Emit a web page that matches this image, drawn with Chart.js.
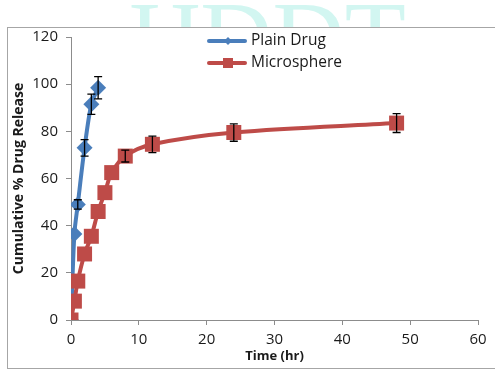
<!DOCTYPE html>
<html>
<head>
<meta charset="utf-8">
<script src="https://cdn.jsdelivr.net/npm/chart.js@4.4.1/dist/chart.umd.min.js"></script>
<style>
html,body{margin:0;padding:0;background:#fff;}
#wrap{position:relative;width:495px;height:372px;overflow:hidden;}
canvas{position:absolute;left:0;top:0;}
</style>
</head>
<body>
<div id="wrap"><canvas id="c" width="495" height="372"></canvas></div>
<script>
// ---- data ----
const plainTime    = [0, 0.5, 1, 2, 3, 4];
const plainRelease = [0, 36.5, 49, 73, 91.5, 98.5];
const plainError   = [0, 0, 2, 3.5, 4.3, 4.7];

const microTime    = [0, 0.5, 1, 2, 3, 4, 5, 6, 8, 12, 24, 48];
const microRelease = [0, 8, 16.5, 28, 35.5, 46, 54, 62.5, 69.5, 74.5, 79.5, 83.5];
const microError   = [0, 0, 0, 0, 0, 0, 0, 0, 2.5, 3.5, 3.7, 4];

const seriesNames = ['Plain Drug', 'Microsphere'];
const xTicks = [0, 10, 20, 30, 40, 50, 60];
const yTicks = [0, 20, 40, 60, 80, 100, 120];

const BLUE = '#4a7ebb';
const RED = '#be4b48';
const FONT = "'Open Sans', sans-serif";

function pts(xs, ys){ return xs.map((x,i)=>({x:x, y:ys[i]})); }

const errors = [plainError, microError];

const bgPlugin = {
  id:'bg',
  beforeDraw(chart){
    const ctx = chart.ctx;
    ctx.save();
    ctx.fillStyle = '#fff';
    ctx.fillRect(0,0,chart.width,chart.height);
    ctx.beginPath(); ctx.rect(0,0,chart.width,27); ctx.clip();
    ctx.font = "100px 'Liberation Serif', serif";
    ctx.fillStyle = '#d2f6f1';
    ctx.textBaseline = 'alphabetic';
    ctx.fillText('IJDDT', 128, 70);
    ctx.restore();
    ctx.save();
    ctx.strokeStyle = '#a6a6a6';
    ctx.lineWidth = 1;
    ctx.strokeRect(7.5, 27.5, 520, 341);
    ctx.restore();
  }
};

const errPlugin = {
  id:'err',
  afterDatasetsDraw(chart){
    const ctx = chart.ctx, xs = chart.scales.x, ys = chart.scales.y;
    ctx.save();
    ctx.strokeStyle = '#000';
    ctx.lineWidth = 1.3;
    chart.data.datasets.forEach((ds, di)=>{
      ds.data.forEach((p, i)=>{
        const e = errors[di][i];
        if (!e) return;
        const px = xs.getPixelForValue(p.x);
        const top = ys.getPixelForValue(p.y + e);
        const bot = ys.getPixelForValue(p.y - e);
        ctx.beginPath();
        ctx.moveTo(px, top); ctx.lineTo(px, bot);
        ctx.moveTo(px-4, top); ctx.lineTo(px+4, top);
        ctx.moveTo(px-4, bot); ctx.lineTo(px+4, bot);
        ctx.stroke();
      });
    });
    ctx.restore();
  }
};

const legendPlugin = {
  id:'customLegend',
  afterDraw(chart){
    const ctx = chart.ctx;
    const items = [
      {name: seriesNames[0], color: BLUE, shape:'diamond', y: 41},
      {name: seriesNames[1], color: RED, shape:'square', y: 63}
    ];
    ctx.save();
    items.forEach(it=>{
      ctx.strokeStyle = it.color;
      ctx.lineWidth = 4;
      ctx.lineCap = 'round';
      ctx.beginPath(); ctx.moveTo(209, it.y); ctx.lineTo(245, it.y); ctx.stroke();
      ctx.fillStyle = it.color;
      if (it.shape === 'diamond') {
        ctx.beginPath();
        ctx.moveTo(228, it.y-4); ctx.lineTo(232, it.y); ctx.lineTo(228, it.y+4); ctx.lineTo(224, it.y);
        ctx.closePath(); ctx.fill();
      } else {
        ctx.fillRect(223, it.y-5, 10, 10);
      }
      ctx.fillStyle = '#1a1a1a';
      ctx.font = "15.5px " + FONT;
      ctx.textBaseline = 'middle';
      ctx.fillText(it.name, 251, it.y);
    });
    ctx.restore();
  }
};

new Chart(document.getElementById('c'), {
  type: 'line',
  data: {
    datasets: [
      {
        label: seriesNames[0],
        data: pts(plainTime, plainRelease),
        borderColor: BLUE, backgroundColor: BLUE,
        borderWidth: 4, pointStyle: 'rectRot', pointRadius: 8, pointHoverRadius: 8,
        pointBorderWidth: 0, tension: 0.3, order: 1
      },
      {
        label: seriesNames[1],
        data: pts(microTime, microRelease),
        borderColor: RED, backgroundColor: RED,
        borderWidth: 4, pointStyle: 'rect', pointRadius: 10.6, pointHoverRadius: 10.6,
        pointBorderWidth: 0, tension: 0.35, order: 0
      }
    ]
  },
  options: {
    responsive: false,
    animation: false,
    events: [],
    layout: { padding: { left: 0, top: 37, right: 17, bottom: 0 } },
    plugins: { legend: { display: false }, tooltip: { enabled: false } },
    scales: {
      x: {
        type: 'linear', min: 0, max: 60,
        afterBuildTicks(s){ s.ticks = xTicks.map(v=>({value:v})); },
        afterFit(s){ s.height = 52; },
        grid: { drawOnChartArea: false, drawTicks: true, tickLength: 5, color: '#8c8c8c' },
        border: { color: '#8c8c8c', width: 1 },
        ticks: { color: '#1a1a1a', font: { family: FONT, size: 15 }, padding: 6 },
        title: { display: true, text: 'Time (hr)', color: '#1a1a1a',
                 font: { family: FONT, size: 13, weight: 'bold' }, padding: { top: 0, bottom: 8 } }
      },
      y: {
        type: 'linear', min: 0, max: 120,
        afterBuildTicks(s){ s.ticks = yTicks.map(v=>({value:v})); },
        afterFit(s){ s.width = 71; },
        grid: { drawOnChartArea: false, drawTicks: true, tickLength: 5, color: '#8c8c8c' },
        border: { color: '#8c8c8c', width: 1 },
        ticks: { color: '#1a1a1a', font: { family: FONT, size: 15 }, padding: 8 },
        title: { display: true, text: 'Cumulative % Drug Release', color: '#1a1a1a',
                 font: { family: FONT, size: 14, weight: 'bold' }, padding: { top: 11, bottom: 0 } }
      }
    }
  },
  plugins: [bgPlugin, errPlugin, legendPlugin]
});
</script>
</body>
</html>
